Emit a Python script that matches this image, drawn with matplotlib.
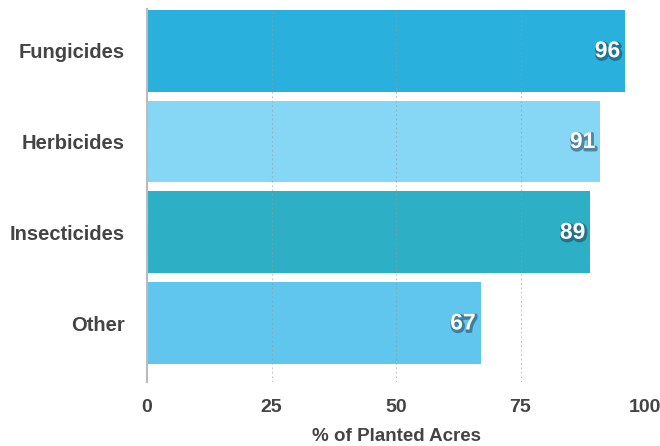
import matplotlib.pyplot as plt
import matplotlib.patheffects as pe

categories = ["Fungicides", "Herbicides", "Insecticides", "Other"]
values = [96, 91, 89, 67]
colors = ["#2AB0DC", "#86D6F6", "#2DAFC6", "#60C6EE"]
xticks = [0, 25, 50, 75, 100]

plt.rcParams['font.family'] = ['Liberation Sans', 'DejaVu Sans']

fig = plt.figure(figsize=(6.6, 4.46), dpi=100)
ax = fig.add_axes([147 / 660, 1 - 382 / 446, 498 / 660, 373 / 446])

ypos = list(range(len(categories)))
ax.barh(ypos, values, height=0.9, color=colors, zorder=2)

for y, v in zip(ypos, values):
    ax.text(v - 1, y, str(v), ha="right", va="center", color="white",
            fontsize=16.5, fontweight="bold", zorder=4,
            path_effects=[pe.SimpleLineShadow(offset=(0.8, -1.2), shadow_color="#1a3a50", alpha=0.5, linewidth=2.5),
                          pe.Normal()])

ax.set_xlim(0, 100)
ax.set_ylim(3.65, -0.46)
ax.set_yticks(ypos)
ax.set_yticklabels(categories, fontsize=14.5, fontweight="bold", color="#444444")
ax.set_xticks(xticks)
ax.set_xticklabels([str(t) for t in xticks], fontsize=14, fontweight="bold", color="#444444")
ax.tick_params(length=0)
ax.tick_params(axis="y", pad=16)
ax.tick_params(axis="x", pad=12)

ax.grid(axis="x", linestyle=(0, (1.5, 2.5)), color="#999999", linewidth=0.8, alpha=0.6, zorder=3)
ax.set_axisbelow(False)
for s in ["top", "right", "bottom"]:
    ax.spines[s].set_visible(False)
ax.spines["left"].set_color("#bbbbbb")
ax.spines["left"].set_linewidth(1.5)
ax.spines["left"].set_zorder(5)

ax.set_xlabel("% of Planted Acres", fontsize=13.5, fontweight="bold", color="#444444", labelpad=9)

fig.savefig("out.png", dpi=100)
